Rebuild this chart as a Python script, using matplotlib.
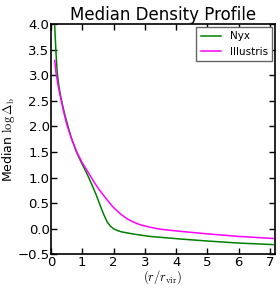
import matplotlib
matplotlib.use('Agg')
import matplotlib.pyplot as plt

plt.rcParams['mathtext.fontset'] = 'cm'

nyx_r = [0.12, 0.16, 0.2, 0.25, 0.3, 0.39, 0.47, 0.55, 0.65, 0.8, 0.95, 1.09, 1.2, 1.33,
         1.44, 1.54, 1.62, 1.7, 1.8, 1.9, 2.0, 2.1, 2.25, 2.42, 2.7, 3.16, 4.12, 5.0, 6.0, 7.1]
nyx_d = [3.96, 3.45, 3.05, 2.8, 2.62, 2.36, 2.17, 1.99, 1.78, 1.52, 1.32, 1.15, 1.01, 0.83,
         0.67, 0.51, 0.38, 0.26, 0.13, 0.05, 0.0, -0.03, -0.06, -0.08, -0.11, -0.15, -0.2,
         -0.24, -0.28, -0.31]

ill_r = [0.12, 0.16, 0.23, 0.3, 0.4, 0.5, 0.65, 0.84, 1.0, 1.19, 1.41, 1.57, 1.75, 1.88,
         1.99, 2.2, 2.42, 2.6, 2.84, 3.16, 3.5, 4.12, 5.0, 6.0, 7.1]
ill_d = [3.29, 3.05, 2.79, 2.58, 2.3, 2.05, 1.77, 1.48, 1.29, 1.1, 0.88, 0.74, 0.6, 0.5,
         0.42, 0.3, 0.2, 0.14, 0.08, 0.03, -0.01, -0.05, -0.1, -0.15, -0.19]

fig = plt.figure(figsize=(2.8, 2.89), dpi=100)
ax = fig.add_axes([0.182, 0.12, 0.801, 0.797])

ax.plot(nyx_r, nyx_d, color='green', lw=1.1, label='Nyx')
ax.plot(ill_r, ill_d, color='magenta', lw=1.1, label='Illustris')

ax.set_xlim(0, 7.17)
ax.set_ylim(-0.5, 4.0)
ax.set_xticks(range(8))
ax.set_yticks([-0.5, 0.0, 0.5, 1.0, 1.5, 2.0, 2.5, 3.0, 3.5, 4.0])
ax.tick_params(direction='in', top=True, right=True, length=4, width=1, labelsize=9.5, pad=1)
for s in ax.spines.values():
    s.set_linewidth(1.2)

ax.set_title('Median Density Profile', fontsize=12, pad=3)
ax.set_ylabel(r'Median $\log\Delta_{\rm b}$', fontsize=9, labelpad=0)
ax.set_xlabel(r'$(r/r_{\rm vir})$', fontsize=9, labelpad=0)

leg = ax.legend(loc='upper right', fontsize=7.5, fancybox=False, handlelength=2.0,
                labelspacing=0.55, borderaxespad=0.3, framealpha=1)
leg.get_frame().set_edgecolor('0.4')

fig.savefig('out.png', dpi=100)
